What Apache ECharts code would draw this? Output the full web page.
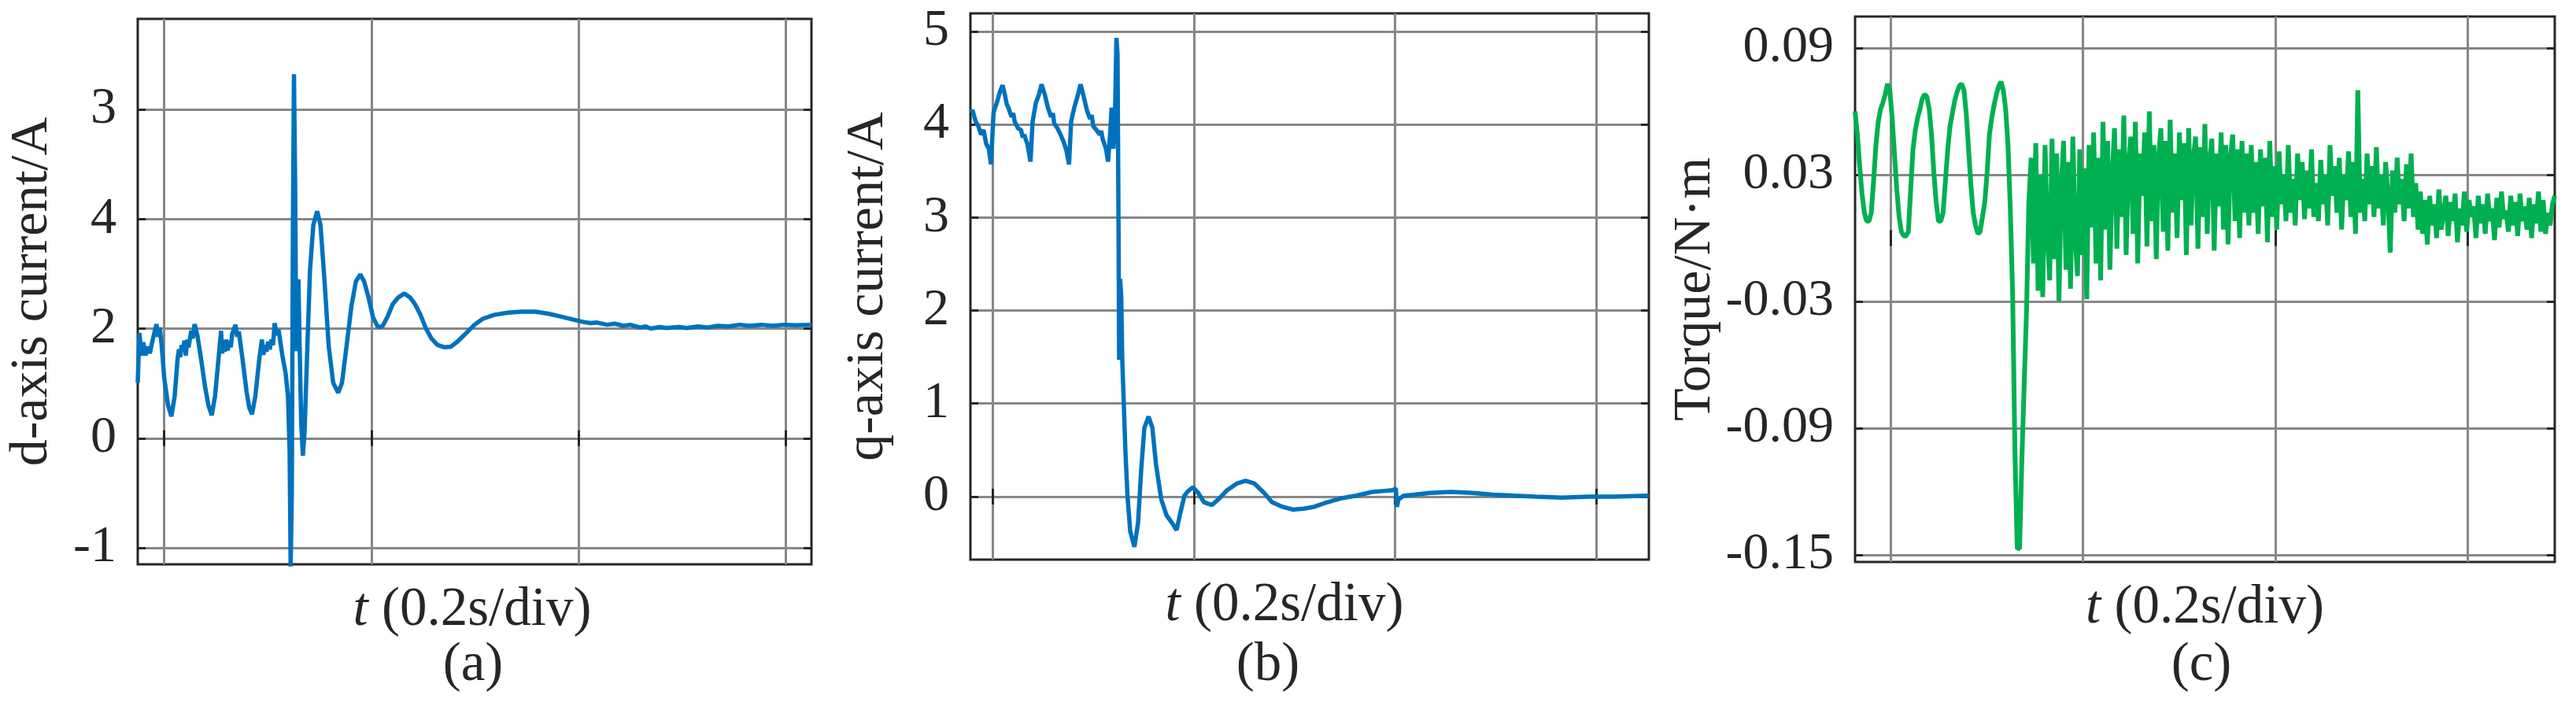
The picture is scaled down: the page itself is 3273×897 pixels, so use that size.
<!DOCTYPE html>
<html>
<head>
<meta charset="utf-8">
<script src="https://cdn.jsdelivr.net/npm/echarts@6/dist/echarts.min.js"></script>
<style>
    html, body { margin: 0; padding: 0; background: #fff; }
    #main { width: 3273px; height: 897px; }
</style>
</head>
<body>
<div id="main"></div>
<script>
// time grid, 0.2 s per division (same for all three panels)
var timeTicks = [0.2, 0.4, 0.6, 0.8];

// (a) d-axis current, [t (s), value]; the printed tick labels are not monotonic in the source
var dTicks = [-2, 0, 2, 4, 6];
var dLabels = ['-1', '0', '2', '4', '3'];
var dCurrent = [
    [0.1744, 1.01], [0.1760, 1.92], [0.1781, 1.51], [0.1797, 1.75], [0.1819, 1.51], [0.1840, 1.67],
    [0.1861, 1.55], [0.1883, 1.75], [0.1904, 1.92], [0.1925, 2.08], [0.1940, 1.85], [0.1957, 2.02],
    [0.1975, 1.70], [0.2000, 1.10], [0.2037, 0.60], [0.2069, 0.40], [0.2101, 0.77], [0.2128, 1.43],
    [0.2142, 1.62], [0.2155, 1.48], [0.2168, 1.70], [0.2181, 1.58], [0.2195, 1.78], [0.2208, 1.51],
    [0.2222, 1.80], [0.2235, 1.66], [0.2261, 1.96], [0.2275, 1.82], [0.2293, 2.08], [0.2320, 1.88],
    [0.2357, 1.43], [0.2395, 0.93], [0.2427, 0.60], [0.2459, 0.42], [0.2491, 0.77], [0.2523, 1.43],
    [0.2549, 1.96], [0.2560, 1.55], [0.2571, 1.72], [0.2584, 1.58], [0.2597, 1.80], [0.2613, 1.60],
    [0.2629, 1.78], [0.2643, 1.66], [0.2656, 1.90], [0.2688, 2.07], [0.2705, 1.85], [0.2720, 1.95],
    [0.2757, 1.43], [0.2795, 0.85], [0.2821, 0.56], [0.2848, 0.44], [0.2880, 0.77], [0.2917, 1.43],
    [0.2944, 1.80], [0.2958, 1.52], [0.2971, 1.70], [0.2987, 1.58], [0.3003, 1.76], [0.3019, 1.62],
    [0.3035, 1.80], [0.3050, 1.70], [0.3067, 2.10], [0.3085, 1.88], [0.3104, 1.98], [0.3141, 1.51],
    [0.3173, 1.18], [0.3195, 0.77], [0.3211, -0.22], [0.3221, -2.35], [0.3232, -1.04], [0.3243, 3.89],
    [0.3253, 6.64], [0.3264, 4.71], [0.3275, 1.59], [0.3285, 2.33], [0.3296, 2.90], [0.3307, 1.75],
    [0.3323, 0.28], [0.3339, -0.32], [0.3355, 0.11], [0.3381, 1.59], [0.3408, 3.07], [0.3440, 3.89],
    [0.3477, 4.14], [0.3509, 3.89], [0.3547, 2.90], [0.3589, 1.67], [0.3632, 1.01], [0.3680, 0.83],
    [0.3717, 1.01], [0.3760, 1.67], [0.3808, 2.41], [0.3851, 2.86], [0.3893, 2.99], [0.3931, 2.86],
    [0.3973, 2.57], [0.4016, 2.21], [0.4064, 2.03], [0.4107, 2.04], [0.4155, 2.21], [0.4208, 2.45],
    [0.4261, 2.57], [0.4320, 2.64], [0.4373, 2.57], [0.4421, 2.45], [0.4475, 2.25], [0.4528, 2.00],
    [0.4581, 1.82], [0.4640, 1.70], [0.4704, 1.66], [0.4768, 1.67], [0.4837, 1.77], [0.4917, 1.92],
    [0.4997, 2.07], [0.5077, 2.18], [0.5184, 2.25], [0.5317, 2.29], [0.5451, 2.31], [0.5584, 2.31],
    [0.5717, 2.27], [0.5851, 2.21], [0.5984, 2.15], [0.6050, 2.12], [0.6117, 2.10], [0.6180, 2.11],
    [0.6277, 2.07], [0.6350, 2.09], [0.6437, 2.05], [0.6500, 2.07], [0.6597, 2.02], [0.6650, 2.04],
    [0.6700, 2.00], [0.6784, 2.03], [0.6850, 2.01], [0.6971, 2.03], [0.7050, 2.01], [0.7157, 2.04],
    [0.7250, 2.02], [0.7344, 2.05], [0.7450, 2.04], [0.7557, 2.07], [0.7650, 2.05], [0.7771, 2.07],
    [0.7880, 2.05], [0.7984, 2.07], [0.8100, 2.06], [0.8251, 2.07]
];

// (b) q-axis current, [t (s), A]
var qTicks = [0, 1, 2, 3, 4, 5];
var qLabels = ['0', '1', '2', '3', '4', '5'];
var qCurrent = [
    [0.1780, 4.13], [0.1801, 4.15], [0.1832, 4.03], [0.1859, 3.98], [0.1885, 3.89], [0.1911, 3.94],
    [0.1937, 3.79], [0.1963, 3.74], [0.1984, 3.57], [0.2010, 4.13], [0.2042, 4.23], [0.2073, 4.35],
    [0.2100, 4.42], [0.2126, 4.30], [0.2140, 4.22], [0.2157, 4.18], [0.2189, 4.08], [0.2205, 4.12],
    [0.2220, 4.03], [0.2252, 3.96], [0.2283, 3.94], [0.2300, 3.86], [0.2314, 3.89], [0.2346, 3.79],
    [0.2377, 3.60], [0.2398, 4.03], [0.2430, 4.23], [0.2461, 4.32], [0.2487, 4.43], [0.2519, 4.32],
    [0.2550, 4.18], [0.2582, 4.08], [0.2600, 4.12], [0.2613, 4.01], [0.2644, 3.96], [0.2676, 3.89],
    [0.2707, 3.81], [0.2734, 3.72], [0.2760, 3.57], [0.2781, 4.03], [0.2812, 4.18], [0.2844, 4.30],
    [0.2875, 4.43], [0.2906, 4.30], [0.2938, 4.15], [0.2969, 4.06], [0.2985, 4.10], [0.3001, 3.98],
    [0.3032, 3.94], [0.3064, 3.89], [0.3080, 3.93], [0.3095, 3.84], [0.3127, 3.74], [0.3148, 3.60],
    [0.3168, 3.89], [0.3184, 4.18], [0.3200, 3.74], [0.3216, 4.03], [0.3231, 4.93], [0.3242, 4.76],
    [0.3252, 2.92], [0.3258, 1.47], [0.3268, 2.34], [0.3279, 2.14], [0.3289, 1.47], [0.3305, 0.98],
    [0.3320, 0.50], [0.3341, 0.01], [0.3368, -0.37], [0.3410, -0.54], [0.3446, -0.28], [0.3478, 0.30],
    [0.3509, 0.74], [0.3551, 0.86], [0.3588, 0.74], [0.3624, 0.35], [0.3677, -0.03], [0.3729, -0.20],
    [0.3782, -0.28], [0.3829, -0.36], [0.3865, -0.18], [0.3907, 0.01], [0.3944, 0.06], [0.3991, 0.10],
    [0.4044, 0.04], [0.4101, -0.06], [0.4180, -0.09], [0.4253, -0.02], [0.4332, 0.07], [0.4426, 0.14],
    [0.4515, 0.17], [0.4604, 0.14], [0.4699, 0.04], [0.4777, -0.06], [0.4882, -0.11], [0.4987, -0.14],
    [0.5092, -0.13], [0.5196, -0.11], [0.5301, -0.07], [0.5458, -0.02], [0.5615, 0.01], [0.5773, 0.05],
    [0.5877, 0.06], [0.5982, 0.07], [0.6008, 0.09], [0.6019, -0.11], [0.6035, -0.03], [0.6087, 0.01],
    [0.6192, 0.02], [0.6349, 0.04], [0.6559, 0.05], [0.6768, 0.04], [0.6978, 0.02], [0.7187, 0.01],
    [0.7397, 0.00], [0.7659, -0.01], [0.7921, 0.00], [0.8183, 0.00], [0.8523, 0.01]
];

// (c) torque, N·m, samples evenly spread over the visible time window
var torqueTicks = [-0.15, -0.09, -0.03, 0.03, 0.09];
var torqueLabels = ['-0.15', '-0.09', '-0.03', '0.03', '0.09'];
var torque = [
    0.060, 0.049, 0.034, 0.021, 0.012, 0.008, 0.008, 0.012, 0.027, 0.044,
    0.055, 0.061, 0.064, 0.068, 0.073, 0.070, 0.057, 0.040, 0.023, 0.010,
    0.003, 0.001, 0.001, 0.003, 0.023, 0.042, 0.051, 0.057, 0.061, 0.066,
    0.068, 0.067, 0.061, 0.049, 0.031, 0.017, 0.008, 0.008, 0.012, 0.027,
    0.042, 0.053, 0.059, 0.065, 0.069, 0.072, 0.073, 0.070, 0.059, 0.042,
    0.025, 0.012, 0.006, 0.002, 0.003, 0.010, 0.017, 0.031, 0.049, 0.057,
    0.063, 0.068, 0.072, 0.074, 0.070, 0.061, 0.044, 0.014, -0.026, -0.101,
    -0.147, -0.147, -0.105, -0.069, -0.035, 0.017,
    // noisy settling
    0.038, -0.012, 0.045, -0.025, 0.030, -0.028, 0.044, 0.002, -0.020, 0.047,
    -0.010, 0.040, -0.030, 0.025, 0.046, -0.015, 0.036, -0.024, 0.048, 0.000,
    -0.018, 0.042, -0.008, 0.033, -0.029, 0.044, 0.005,
    0.050, -0.012, 0.038, -0.020, 0.055, 0.004, 0.046, -0.015, 0.030, 0.052,
    -0.005, 0.042, 0.010, 0.058, -0.008, 0.035, 0.048, 0.002, 0.055, -0.012,
    0.040, 0.020, 0.050, -0.004, 0.060, 0.008, 0.044, -0.010, 0.038, 0.052,
    0.003, 0.046, -0.006, 0.056, 0.012, 0.040, 0.000, 0.050, 0.018, 0.045,
    -0.008, 0.052, 0.006, 0.038, 0.048, -0.005, 0.043, 0.010, 0.054, 0.002,
    0.036, 0.047, -0.006, 0.040, 0.015, 0.050, 0.004, 0.044, -0.003, 0.038,
    0.049, 0.008, 0.042, 0.000, 0.046, 0.012,
    0.040, 0.006, 0.044, 0.012, 0.036, 0.002, 0.042, 0.015, 0.038, -0.002,
    0.046, 0.010, 0.034, 0.004, 0.041, 0.016, 0.030, 0.008, 0.044, 0.012,
    0.028, 0.006, 0.040, 0.018, 0.036, 0.009, 0.032, 0.014, 0.042, 0.010,
    0.026, 0.008, 0.037, 0.016, 0.030, 0.006, 0.044, 0.020, 0.034, 0.012,
    0.038, 0.004, 0.030, 0.018, 0.041, 0.010, 0.036, 0.002, 0.070, 0.012,
    0.028, 0.008, 0.040, 0.016, 0.034, 0.010, 0.043, 0.014, 0.030, 0.006,
    0.036, 0.020, -0.007, 0.032, 0.012, 0.038, 0.016, 0.028, 0.008, 0.035,
    0.014, 0.040, 0.010, 0.026, 0.004,
    0.022, 0.002, 0.018, -0.003, 0.020, 0.006, 0.016, 0.000, 0.023, 0.004,
    0.012, 0.020, 0.001, 0.017, 0.008, 0.021, -0.002, 0.014, 0.006, 0.022,
    0.003, 0.018, 0.010, 0.015, 0.000, 0.020, 0.007, 0.016, 0.002, 0.021,
    0.008, 0.014, -0.001, 0.019, 0.005, 0.022, 0.009, 0.013, 0.003, 0.020,
    0.006, 0.017, 0.001, 0.021, 0.008, 0.015, 0.004, 0.019, 0.000, 0.016,
    0.007, 0.022, 0.003, 0.018, 0.002, 0.012, 0.006, 0.016, 0.020
];

var FONT = '"Liberation Serif", "Times New Roman", serif';
var INK = '#262626';
var GRID_GREY = '#878787';
var BLUE = '#0072bd';
var GREEN = '#00b050';

var chart = echarts.init(document.getElementById('main'));

// frame of each panel in page pixels, plus the visible ranges
var panels = [
    {
        left: 175, top: 24, width: 856, height: 693,
        xMin: 0.1744, xMax: 0.8251, yMin: -2.30, yMax: 7.65,
        yTicks: dTicks, yLabels: dLabels, yName: 'd-axis current/A', nameGap: 100,
        xNamePad: [0, 6, 0, 0], caption: '(a)', captionX: 601
    },
    {
        left: 1233, top: 17, width: 862, height: 694,
        xMin: 0.1780, xMax: 0.8523, yMin: -0.677, yMax: 5.193,
        yTicks: qTicks, yLabels: qLabels, yName: 'q-axis current/A', nameGap: 96,
        xNamePad: [0, 64, 0, 0], caption: '(b)', captionX: 1611
    },
    {
        left: 2357, top: 21, width: 889, height: 693,
        xMin: 0.1627, xMax: 0.8910, yMin: -0.1534, yMax: 0.1049,
        yTicks: torqueTicks, yLabels: torqueLabels, yName: 'Torque/N\u00b7m', nameGap: 168,
        xNamePad: [0, 0, 0, 0], caption: '(c)', captionX: 2797
    }
];

function tickStyle() {
    return {show: true, inside: true, length: 10, lineStyle: {color: INK, width: 3}};
}

function labelFor(ticks, labels) {
    return function (v) {
        for (var k = 0; k < ticks.length; k++) {
            if (Math.abs(ticks[k] - v) < 1e-9) return labels[k];
        }
        return '';
    };
}

var grids = [], xAxes = [], yAxes = [], graphics = [];

panels.forEach(function (p, i) {
    grids.push({
        left: p.left, top: p.top, width: p.width, height: p.height,
        show: true, borderColor: INK, borderWidth: 3, containLabel: false
    });

    var xTick = tickStyle();
    xTick.customValues = timeTicks;
    xAxes.push({
        type: 'value', gridIndex: i, position: 'bottom', min: p.xMin, max: p.xMax,
        axisLine: {show: false},
        axisTick: xTick,
        axisLabel: {show: false, customValues: timeTicks},
        splitLine: {show: true, lineStyle: {color: GRID_GREY, width: 3}},
        name: '{it|t} (0.2s/div)', nameLocation: 'middle', nameGap: 24,
        nameTextStyle: {
            fontFamily: FONT, fontSize: 69, color: INK, padding: p.xNamePad,
            rich: {it: {fontFamily: FONT, fontSize: 69, color: INK, fontStyle: 'italic'}}
        }
    });
    var xTopTick = tickStyle();
    xTopTick.customValues = timeTicks;
    xAxes.push({
        type: 'value', gridIndex: i, position: 'top', min: p.xMin, max: p.xMax,
        axisLine: {show: false}, axisTick: xTopTick,
        axisLabel: {show: false}, splitLine: {show: false}
    });

    var yTick = tickStyle();
    yTick.customValues = p.yTicks;
    yAxes.push({
        type: 'value', gridIndex: i, position: 'left', min: p.yMin, max: p.yMax,
        axisLine: {show: false},
        axisTick: yTick,
        axisLabel: {
            show: true, customValues: p.yTicks, margin: 27,
            fontFamily: FONT, fontSize: 66, color: INK,
            formatter: labelFor(p.yTicks, p.yLabels)
        },
        splitLine: {show: true, lineStyle: {color: GRID_GREY, width: 3}},
        name: p.yName, nameLocation: 'middle', nameGap: p.nameGap,
        nameTextStyle: {fontFamily: FONT, fontSize: 68, color: INK}
    });
    var yRightTick = tickStyle();
    yRightTick.customValues = p.yTicks;
    yAxes.push({
        type: 'value', gridIndex: i, position: 'right', min: p.yMin, max: p.yMax,
        axisLine: {show: false}, axisTick: yRightTick,
        axisLabel: {show: false}, splitLine: {show: false}
    });

    graphics.push({
        type: 'text', x: p.captionX, y: 846,
        style: {
            text: p.caption, fontFamily: FONT, fontSize: 69, fill: INK,
            align: 'center', verticalAlign: 'middle'
        }
    });
});

// torque samples sit on an evenly spaced hidden axis spanning panel (c)
xAxes.push({
    type: 'category', gridIndex: 2, show: false, boundaryGap: false,
    data: torque.map(function (v, k) { return k; })
});

chart.setOption({
    animation: false,
    backgroundColor: '#fff',
    grid: grids,
    xAxis: xAxes,
    yAxis: yAxes,
    graphic: graphics,
    series: [
        {
            type: 'line', xAxisIndex: 0, yAxisIndex: 0, data: dCurrent,
            showSymbol: false, symbol: 'none', z: 5,
            lineStyle: {color: BLUE, width: 5.5}
        },
        {
            type: 'line', xAxisIndex: 2, yAxisIndex: 2, data: qCurrent,
            showSymbol: false, symbol: 'none', z: 5,
            lineStyle: {color: BLUE, width: 5.5}
        },
        {
            type: 'line', xAxisIndex: 6, yAxisIndex: 4, data: torque,
            showSymbol: false, symbol: 'none', z: 5,
            lineStyle: {color: GREEN, width: 6}
        }
    ]
});
</script>
</body>
</html>
